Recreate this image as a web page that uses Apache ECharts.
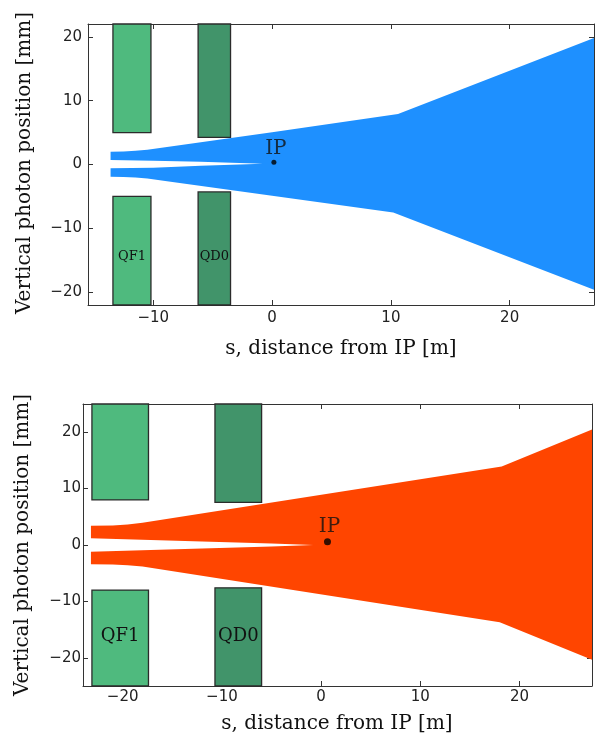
<!DOCTYPE html>
<html>
<head>
<meta charset="utf-8">
<title>Photon beam envelope through the final focus</title>
<script src="https://cdn.jsdelivr.net/npm/echarts@6/dist/echarts.min.js"></script>
<style>
  html, body { margin: 0; padding: 0; background: #fff; }
  #chart { width: 596px; height: 740px; }
</style>
</head>
<body>
<div id="chart"></div>
<script>
// ---------- Upper panel: shorter final focus (blue envelope) ----------
const topSRange = [-15.5, 27.1];
const topYRange = [-22, 22];
const topUpperS = [-13.6, -12.5, -11.5, -10.5, -9, 0, 10.6, 27.1];
const topUpperY = [2.0, 2.05, 2.15, 2.3, 2.7, 5.05, 7.9, 19.8];
const topLowerS = [-13.6, -12.5, -11.5, -10.5, -9, 0, 10.2, 27.1];
const topLowerY = [-1.9, -1.95, -2.05, -2.2, -2.6, -4.9, -7.5, -19.6];
const topGapUpperS = [-13.6, -10, -6, -0.8];
const topGapUpperY = [0.7, 0.6, 0.45, 0.1];
const topGapLowerS = [-13.6, -10, -6, -0.8];
const topGapLowerY = [-0.6, -0.5, -0.2, 0.1];
const topMagnetNames = ['QF1', 'QD0'];
const topMagnetStart = [-13.4, -6.23];
const topMagnetEnd = [-10.2, -3.5];
const topApertureUp = [5.0, 4.25];
const topApertureDown = [-5.0, -4.3];
const topIP = [0.15, 0.35];

// ---------- Lower panel: longer final focus (orange envelope) ----------
const botSRange = [-24, 27.3];
const botYRange = [-25, 25];
const botUpperS = [-23.2, -21, -19.5, -18, 18.2, 27.3];
const botUpperY = [3.4, 3.45, 3.65, 3.95, 13.9, 20.5];
const botLowerS = [-23.2, -21, -19.5, -18, 18.0, 27.3];
const botLowerY = [-3.4, -3.45, -3.6, -3.8, -13.7, -20.35];
const botGapUpperS = [-23.2, -12, -5, -0.8];
const botGapUpperY = [1.2, 0.6, 0.25, 0.0];
const botGapLowerS = [-23.2, -12, -5, -0.8];
const botGapLowerY = [-1.2, -0.6, -0.25, 0.0];
const botMagnetNames = ['QF1', 'QD0'];
const botMagnetStart = [-23.1, -10.7];
const botMagnetEnd = [-17.4, -6.0];
const botApertureUp = [8.0, 7.55];
const botApertureDown = [-8.0, -7.6];
const botIP = [0.64, 0.58];

// shared axis ticks
const sTicks = { top: [-10, 0, 10, 20], bottom: [-20, -10, 0, 10, 20] };
const yTicks = [-20, -10, 0, 10, 20];

const magnetColors = { QF1: '#4fba7e', QD0: '#41946a' };
const SERIF = '"DejaVu Serif", "Liberation Serif", serif';
const SANS = '"DejaVu Sans", sans-serif';
const FRAME = '#333';

function zip(xs, ys) { return xs.map((x, i) => [x, ys[i]]); }

// One closed outline: outer top edge left->right, outer bottom edge right->left,
// then the inner gap between the two incoming fans back to the start.
function envelopeOutline(us, uy, ls, ly, gus, guy, gls, gly) {
  return zip(us, uy)
    .concat(zip(ls, ly).reverse())
    .concat(zip(gls, gly))
    .concat(zip(gus, guy).reverse());
}

function fmt(v) { return String(v).replace('-', '\u2212'); }

function panel(idx, cfg) {
  const xAxes = [
    {
      type: 'value', gridIndex: idx, position: 'bottom',
      min: cfg.sRange[0], max: cfg.sRange[1],
      axisLine: { show: true, onZero: false, lineStyle: { color: FRAME, width: 1 } },
      axisTick: { show: true, inside: true, length: 5, customValues: cfg.sTicks, lineStyle: { color: FRAME } },
      axisLabel: { customValues: cfg.sTicks, formatter: fmt, margin: cfg.xLabelMargin,
                   fontFamily: SANS, fontSize: 15, color: '#222' },
      splitLine: { show: false }
    },
    {
      type: 'value', gridIndex: idx, position: 'top',
      min: cfg.sRange[0], max: cfg.sRange[1],
      axisLine: { show: true, onZero: false, lineStyle: { color: FRAME, width: 1 } },
      axisTick: { show: true, inside: true, length: 5, customValues: cfg.sTicks, lineStyle: { color: FRAME } },
      axisLabel: { show: false },
      splitLine: { show: false }
    }
  ];
  const yAxes = [
    {
      type: 'value', gridIndex: idx, position: 'left',
      min: cfg.yRange[0], max: cfg.yRange[1],
      axisLine: { show: true, onZero: false, lineStyle: { color: FRAME, width: 1 } },
      axisTick: { show: true, inside: true, length: 5, customValues: yTicks, lineStyle: { color: FRAME } },
      axisLabel: { customValues: yTicks, formatter: fmt, margin: cfg.yLabelMargin,
                   fontFamily: SANS, fontSize: 15, color: '#222' },
      splitLine: { show: false }
    },
    {
      type: 'value', gridIndex: idx, position: 'right',
      min: cfg.yRange[0], max: cfg.yRange[1],
      axisLine: { show: true, onZero: false, lineStyle: { color: FRAME, width: 1 } },
      axisTick: { show: true, inside: true, length: 5, customValues: yTicks, lineStyle: { color: FRAME } },
      axisLabel: { show: false },
      splitLine: { show: false }
    }
  ];

  const xi = idx * 2, yi = idx * 2;
  const outline = envelopeOutline(cfg.us, cfg.uy, cfg.ls, cfg.ly, cfg.gus, cfg.guy, cfg.gls, cfg.gly);

  // magnets: a block above and below the beam for each quadrupole
  const magnetData = [];
  cfg.names.forEach((n, i) => {
    magnetData.push([cfg.mStart[i], cfg.mEnd[i], cfg.apUp[i], cfg.yRange[1], n]);
    magnetData.push([cfg.mStart[i], cfg.mEnd[i], cfg.yRange[0], cfg.apDown[i], n]);
  });

  const series = [
    {
      type: 'custom', xAxisIndex: xi, yAxisIndex: yi, z: 2,
      data: magnetData,
      encode: { x: [0, 1], y: [2, 3] },
      renderItem: function (params, api) {
        const p0 = api.coord([api.value(0), api.value(3)]);
        const p1 = api.coord([api.value(1), api.value(2)]);
        return {
          type: 'rect',
          shape: { x: p0[0], y: p0[1], width: p1[0] - p0[0], height: p1[1] - p0[1] },
          style: { fill: magnetColors[api.value(4)], stroke: '#2b2b2b', lineWidth: 1.3 }
        };
      }
    },
    {
      type: 'custom', xAxisIndex: xi, yAxisIndex: yi, z: 3,
      data: cfg.names.map((n, i) => [(cfg.mStart[i] + cfg.mEnd[i]) / 2, cfg.nameY, n]),
      encode: { x: 0, y: 1 },
      renderItem: function (params, api) {
        const p = api.coord([api.value(0), api.value(1)]);
        return {
          type: 'text', x: p[0], y: p[1],
          style: { text: api.value(2), fill: '#111', font: cfg.nameSize + 'px ' + SERIF,
                   textAlign: 'center', textVerticalAlign: 'middle' }
        };
      }
    },
    {
      type: 'custom', xAxisIndex: xi, yAxisIndex: yi, z: 4,
      data: outline,
      encode: { x: 0, y: 1 },
      renderItem: function (params, api) {
        if (params.dataIndex !== 0) return null;
        const pts = outline.map(pt => api.coord(pt));
        return { type: 'polygon', shape: { points: pts }, style: { fill: cfg.color, stroke: null } };
      }
    },
    {
      type: 'scatter', xAxisIndex: xi, yAxisIndex: yi, z: 5,
      data: [cfg.ip],
      symbol: 'circle', symbolSize: cfg.ipSize,
      itemStyle: { color: '#000' },
      label: { show: true, position: 'top', distance: 1, offset: [2, 0], formatter: 'IP',
               fontFamily: SERIF, fontSize: 20, color: '#111' },
      silent: true
    }
  ];
  return { xAxes, yAxes, series };
}

const upper = panel(0, {
  sRange: topSRange, yRange: topYRange, sTicks: sTicks.top,
  us: topUpperS, uy: topUpperY, ls: topLowerS, ly: topLowerY,
  gus: topGapUpperS, guy: topGapUpperY, gls: topGapLowerS, gly: topGapLowerY,
  names: topMagnetNames, mStart: topMagnetStart, mEnd: topMagnetEnd,
  apUp: topApertureUp, apDown: topApertureDown, ip: topIP,
  color: '#1e90ff', nameY: -14.4, nameSize: 13, ipSize: 5,
  xLabelMargin: 6, yLabelMargin: 6
});
const lower = panel(1, {
  sRange: botSRange, yRange: botYRange, sTicks: sTicks.bottom,
  us: botUpperS, uy: botUpperY, ls: botLowerS, ly: botLowerY,
  gus: botGapUpperS, guy: botGapUpperY, gls: botGapLowerS, gly: botGapLowerY,
  names: botMagnetNames, mStart: botMagnetStart, mEnd: botMagnetEnd,
  apUp: botApertureUp, apDown: botApertureDown, ip: botIP,
  color: '#ff4500', nameY: -16.2, nameSize: 18, ipSize: 7,
  xLabelMargin: 4, yLabelMargin: 2
});

const chart = echarts.init(document.getElementById('chart'), null, { renderer: 'canvas' });
chart.setOption({
  animation: false,
  backgroundColor: '#fff',
  grid: [
    { left: 88, top: 24, width: 506, height: 281 },
    { left: 83, top: 404, width: 509, height: 282 }
  ],
  xAxis: upper.xAxes.concat(lower.xAxes),
  yAxis: upper.yAxes.concat(lower.yAxes),
  series: upper.series.concat(lower.series),
  graphic: [
    { type: 'text', x: 341, y: 349, style: { text: 's, distance from IP [m]', font: '20px ' + SERIF,
      fill: '#111', textAlign: 'center', textVerticalAlign: 'middle' } },
    { type: 'text', x: 337, y: 724, style: { text: 's, distance from IP [m]', font: '20px ' + SERIF,
      fill: '#111', textAlign: 'center', textVerticalAlign: 'middle' } },
    { type: 'text', x: 25, y: 163, rotation: Math.PI / 2, style: { text: 'Vertical photon position [mm]',
      font: '20px ' + SERIF, fill: '#111', textAlign: 'center', textVerticalAlign: 'middle' } },
    { type: 'text', x: 23, y: 545, rotation: Math.PI / 2, style: { text: 'Vertical photon position [mm]',
      font: '20px ' + SERIF, fill: '#111', textAlign: 'center', textVerticalAlign: 'middle' } }
  ]
});
</script>
</body>
</html>
